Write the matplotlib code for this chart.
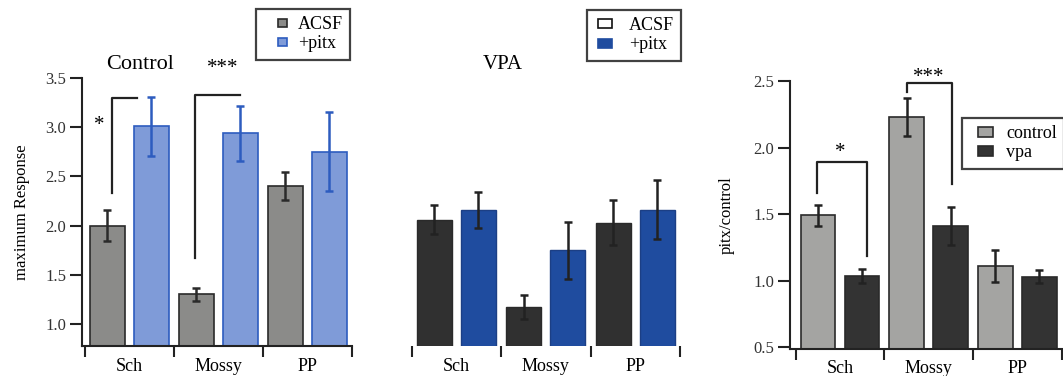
import matplotlib
matplotlib.use("Agg")
import matplotlib.pyplot as plt
from matplotlib.patches import Patch, Rectangle
from matplotlib.legend_handler import HandlerPatch
import numpy as np

plt.rcParams['font.family'] = ['Liberation Serif', 'DejaVu Serif']

categories = ["Sch", "Mossy", "PP"]

# Panel 1: Control
ctrl_acsf = [2.00, 1.30, 2.40]
ctrl_acsf_err = [0.16, 0.07, 0.14]
ctrl_pitx = [3.01, 2.94, 2.75]
ctrl_pitx_err = [0.30, 0.28, 0.40]

# Panel 2: VPA
vpa_acsf = [2.06, 1.17, 2.03]
vpa_acsf_err = [0.15, 0.12, 0.23]
vpa_pitx = [2.16, 1.75, 2.16]
vpa_pitx_err = [0.18, 0.29, 0.30]

# Panel 3: pitx/control ratio
ratio_control = [1.49, 2.23, 1.11]
ratio_control_err = [0.08, 0.145, 0.12]
ratio_vpa = [1.035, 1.41, 1.03]
ratio_vpa_err = [0.05, 0.14, 0.05]

W, H = 1063, 376
fig = plt.figure(figsize=(W / 100, H / 100), dpi=100)
fig.patch.set_facecolor('white')
PT = 0.72  # points per pixel at dpi 100


def px_axes(left, right, top, bottom):
    return fig.add_axes([left / W, 1 - bottom / H, (right - left) / W, (bottom - top) / H])


def small_box_handler(left_px, w_px, h_px):
    def f(legend, orig_handle, xdescent, ydescent, width, height, fontsize):
        return Rectangle((left_px * PT - xdescent, (height - h_px * PT) / 2 - ydescent),
                         w_px * PT, h_px * PT)
    return HandlerPatch(patch_func=f)


def make_legend(handles, x_px, y_px, handlelength, hl, hw, hh):
    leg = fig.legend(handles=handles, loc='upper left', bbox_to_anchor=(x_px / W, 1 - y_px / H),
                     fontsize=13, frameon=True, fancybox=False, edgecolor='#111111',
                     handlelength=handlelength, handleheight=0.7, borderpad=0.4,
                     labelspacing=0.12, handletextpad=0.5, borderaxespad=0,
                     handler_map={Patch: small_box_handler(hl, hw, hh)})
    leg.get_frame().set_linewidth(1.6)
    return leg


x = np.arange(len(categories))
off1, off2, bw = 0.25, 0.745, 0.39
TICKC = '#222222'


def style_xaxis(ax, show_spine=True, pad=8.0):
    ax.set_xticks([0, 1, 2, 3])
    ax.set_xticklabels([])
    ax.tick_params(axis='x', which='major', length=8, width=1.5, direction='out', color=TICKC)
    ax.set_xticks(x + 0.5, minor=True)
    ax.set_xticklabels(categories, minor=True, fontsize=13)
    ax.tick_params(axis='x', which='minor', length=0, pad=pad)
    for s in ['top', 'right']:
        ax.spines[s].set_visible(False)
    if not show_spine:
        ax.spines['bottom'].set_visible(False)
        ax.spines['left'].set_visible(False)
    else:
        for s in ['bottom', 'left']:
            ax.spines[s].set_linewidth(1.5)
            ax.spines[s].set_color(TICKC)


EB = dict(fmt='none', elinewidth=1.8, capsize=3.0, capthick=1.8)

# ---------------- Panel 1 ----------------
ax1 = px_axes(82, 352, 78, 346)
ax1.set_xlim(-0.034, 3.0)
ax1.set_ylim(0.776, 3.5)
ax1.bar(x + off1, ctrl_acsf, bw, bottom=0, color='#8b8b89', edgecolor='#2a2a2a', linewidth=1.2)
ax1.bar(x + off2, ctrl_pitx, bw, bottom=0, color='#7f9bd8', edgecolor='#2d5cbf', linewidth=1.2)
ax1.errorbar(x + off1, ctrl_acsf, yerr=ctrl_acsf_err, ecolor='#2a2a2a', **EB)
ax1.errorbar(x + off2, ctrl_pitx, yerr=ctrl_pitx_err, ecolor='#2d5cbf', **EB)
ax1.set_yticks([1.0, 1.5, 2.0, 2.5, 3.0, 3.5])
ax1.set_yticklabels(['1.0', '1.5', '2.0', '2.5', '3.0', '3.5'], fontsize=12, color='#333333')
ax1.tick_params(axis='y', length=8.5, width=1.5, color=TICKC, pad=3)
ax1.set_ylabel('maximum Response', fontsize=12, labelpad=11)
style_xaxis(ax1, pad=8.5)
ax1.plot([0.30, 0.30, 0.58], [2.33, 3.30, 3.30], color='#222222', lw=1.6, clip_on=False)
ax1.text(0.16, 3.02, '*', fontsize=15, ha='center', va='center')
ax1.plot([1.236, 1.236, 1.74], [1.67, 3.33, 3.33], color='#222222', lw=1.6, clip_on=False)
ax1.text(1.55, 3.60, '***', fontsize=15, ha='center', va='center', clip_on=False)
ax1.text(0.62, 3.635, 'Control', fontsize=16, ha='center', va='center', clip_on=False)
make_legend([Patch(facecolor='#8b8b89', edgecolor='#2a2a2a', linewidth=1.2, label='ACSF'),
             Patch(facecolor='#7f9bd8', edgecolor='#2d5cbf', linewidth=1.2, label='+pitx')],
            256, 9, 1.43, 14.8, 9, 8)

# ---------------- Panel 2 ----------------
ax2 = px_axes(409, 682, 78, 346)
ax2.set_xlim(-0.03, 3.02)
ax2.set_ylim(0.776, 3.5)
ax2.bar(x + off1, vpa_acsf, bw, bottom=0, color='#303030', edgecolor='#2a2a2a', linewidth=1.0)
ax2.bar(x + off2, vpa_pitx, bw, bottom=0, color='#1f4c9f', edgecolor='#1c3f85', linewidth=1.0)
ax2.errorbar(x + off1, vpa_acsf, yerr=vpa_acsf_err, ecolor='#222222', **EB)
ax2.errorbar(x + off2, vpa_pitx, yerr=vpa_pitx_err, ecolor='#222222', **EB)
ax2.set_yticks([])
style_xaxis(ax2, show_spine=False, pad=8.5)
ax2.text(1.02, 3.64, 'VPA', fontsize=15, ha='center', va='center', clip_on=False)
make_legend([Patch(facecolor='white', edgecolor='#111111', linewidth=1.2, label='ACSF'),
             Patch(facecolor='#1f4c9f', edgecolor='#1f4c9f', linewidth=1.2, label='+pitx')],
            587, 10, 1.43, 3.8, 14, 9)

# ---------------- Panel 3 ----------------
ax3 = px_axes(790, 1062, 81, 349)
ax3.set_xlim(-0.064, 3.0)
ax3.set_ylim(0.487, 2.5)
ax3.bar(x + off1, ratio_control, bw, bottom=0, color='#a4a4a2', edgecolor='#2a2a2a', linewidth=1.2)
ax3.bar(x + off2, ratio_vpa, bw, bottom=0, color='#333333', edgecolor='#2a2a2a', linewidth=1.2)
ax3.errorbar(x + off1, ratio_control, yerr=ratio_control_err, ecolor='#222222', **EB)
ax3.errorbar(x + off2, ratio_vpa, yerr=ratio_vpa_err, ecolor='#222222', **EB)
ax3.set_yticks([0.5, 1.0, 1.5, 2.0, 2.5])
ax3.set_yticklabels(['0.5', '1.0', '1.5', '2.0', '2.5'], fontsize=12, color='#333333')
ax3.tick_params(axis='y', length=8.5, width=1.5, color=TICKC, pad=3)
ax3.set_ylabel('pitx/control', fontsize=12, labelpad=13)
style_xaxis(ax3, pad=8.0)
ax3.plot([0.237, 0.237, 0.80, 0.80], [1.661, 1.894, 1.894, 1.186], color='#222222', lw=1.6)
ax3.text(0.50, 1.96, '*', fontsize=15, ha='center', va='center')
ax3.plot([1.258, 1.258, 1.766, 1.766], [2.42, 2.487, 2.487, 1.73], color='#222222', lw=1.6, clip_on=False)
ax3.text(1.50, 2.53, '***', fontsize=15, ha='center', va='center', clip_on=False)
make_legend([Patch(facecolor='#a4a4a2', edgecolor='#2a2a2a', linewidth=1.2, label='control'),
             Patch(facecolor='#333333', edgecolor='#2a2a2a', linewidth=1.2, label='vpa')],
            962, 118, 1.55, 8.8, 15, 10)

fig.savefig('out.png', dpi=100, facecolor='white')
